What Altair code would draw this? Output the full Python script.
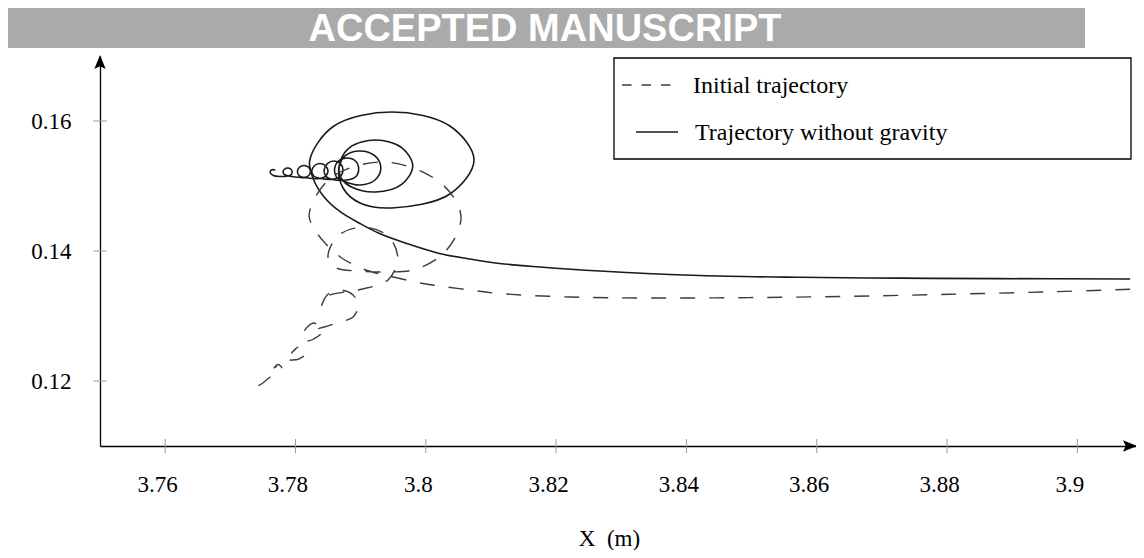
import altair as alt
import pandas as pd

# ---- data (x in m, y in m) ----
solid_x = [3.9081, 3.8880, 3.8727, 3.8574, 3.8420, 3.8267, 3.8175, 3.8113, 3.8067, 3.8021,
           3.7971, 3.7929, 3.7899, 3.7868, 3.7844, 3.7828, 3.7822, 3.7859, 3.7948, 3.8037,
           3.8074, 3.8037, 3.7948, 3.7899, 3.7873, 3.7867, 3.7883, 3.7923, 3.7963, 3.7980,
           3.7963, 3.7923, 3.7886, 3.7870, 3.7867, 3.7876, 3.7899, 3.7922, 3.7931, 3.7922,
           3.7899, 3.7877, 3.7863, 3.7860, 3.7866, 3.7879, 3.7892, 3.7897, 3.7892, 3.7879,
           3.7857, 3.7847, 3.7844, 3.7849, 3.7859, 3.7869, 3.7873, 3.7869, 3.7859, 3.7839,
           3.7828, 3.7825, 3.7829, 3.7837, 3.7846, 3.7850, 3.7846, 3.7837, 3.7817, 3.7806,
           3.7803, 3.7806, 3.7813, 3.7820, 3.7823, 3.7820, 3.7813, 3.7794, 3.7784, 3.7781,
           3.7783, 3.7788, 3.7793, 3.7795, 3.7793, 3.7788, 3.7776, 3.7766, 3.7761, 3.7764,
           3.7769]
solid_y = [0.13570, 0.13575, 0.13582, 0.13595, 0.13623, 0.13692, 0.13754, 0.13808, 0.13877, 0.13962,
           0.14115, 0.14269, 0.14423, 0.14608, 0.14831, 0.15092, 0.15400, 0.15923, 0.16138, 0.15923,
           0.15400, 0.14877, 0.14662, 0.14738, 0.14969, 0.15308, 0.15591, 0.15708, 0.15591, 0.15308,
           0.15025, 0.14908, 0.14985, 0.15123, 0.15277, 0.15462, 0.15538, 0.15462, 0.15277, 0.15092,
           0.15015, 0.15062, 0.15138, 0.15262, 0.15385, 0.15431, 0.15385, 0.15262, 0.15138, 0.15092,
           0.15100, 0.15146, 0.15246, 0.15345, 0.15385, 0.15345, 0.15246, 0.15148, 0.15108, 0.15115,
           0.15154, 0.15231, 0.15312, 0.15346, 0.15312, 0.15231, 0.15149, 0.15115, 0.15126, 0.15157,
           0.15223, 0.15288, 0.15315, 0.15288, 0.15223, 0.15158, 0.15131, 0.15146, 0.15169, 0.15215,
           0.15258, 0.15277, 0.15258, 0.15215, 0.15172, 0.15154, 0.15146, 0.15162, 0.15208, 0.15249,
           0.15246]

dash_x = [3.9081, 3.8957, 3.8804, 3.8650, 3.8497, 3.8344, 3.8221, 3.8113, 3.8067, 3.8021,
          3.7991, 3.7960, 3.7929, 3.7902, 3.7871, 3.7844, 3.7828, 3.7821, 3.7854, 3.7937,
          3.8023, 3.8054, 3.8032, 3.7986, 3.7937, 3.7896, 3.7863, 3.7850, 3.7865, 3.7903,
          3.7942, 3.7957, 3.7942, 3.7903, 3.7876, 3.7850, 3.7840, 3.7849, 3.7868, 3.7888,
          3.7896, 3.7888, 3.7868, 3.7844, 3.7814, 3.7828, 3.7842, 3.7828, 3.7811, 3.7794,
          3.7805, 3.7816, 3.7805, 3.7785, 3.7767, 3.7773, 3.7779, 3.7773, 3.7761, 3.7750,
          3.7742]
dash_y = [0.13411, 0.13372, 0.13334, 0.13303, 0.13283, 0.13277, 0.13292, 0.13346, 0.13400, 0.13462,
          0.13508, 0.13577, 0.13646, 0.13731, 0.13892, 0.14138, 0.14354, 0.14569, 0.15123, 0.15369,
          0.15046, 0.14538, 0.14015, 0.13723, 0.13677, 0.13692, 0.13738, 0.13892, 0.14231, 0.14369,
          0.14231, 0.13892, 0.13554, 0.13415, 0.13369, 0.13308, 0.13154, 0.13328, 0.13400, 0.13328,
          0.13154, 0.12980, 0.12908, 0.12831, 0.12769, 0.12892, 0.12769, 0.12646, 0.12585, 0.12431,
          0.12523, 0.12431, 0.12338, 0.12308, 0.12200, 0.12254, 0.12200, 0.12146, 0.12062, 0.11969,
          0.11923]

x_ticks = [3.76, 3.78, 3.80, 3.82, 3.84, 3.86, 3.88, 3.90]
y_ticks = [0.12, 0.14, 0.16]
legend_labels = ["Initial trajectory", "Trajectory without gravity"]
banner_text = "ACCEPTED MANUSCRIPT"
x_title = "X\u00a0\u00a0(m)"

W, H = 1036, 390
SERIF = "Liberation Serif"

solid_df = pd.DataFrame({"x": solid_x, "y": solid_y, "i": list(range(len(solid_x)))})
dash_df = pd.DataFrame({"x": dash_x, "y": dash_y, "i": list(range(len(dash_x)))})
xt_df = pd.DataFrame({"x": x_ticks})
yt_df = pd.DataFrame({"y": y_ticks})

xscale = alt.Scale(domain=[3.75, 3.909], zero=False, nice=False)
yscale = alt.Scale(domain=[0.11, 0.17], zero=False, nice=False)

xaxis = alt.Axis(values=x_ticks, format=".2~f", title=x_title, ticks=False, grid=False,
                 domainColor="black", domainWidth=1.3, labelFont=SERIF, labelFontSize=23,
                 labelColor="black", labelPadding=38, labelBaseline="middle",
                 labelOffset=-8, labelFlush=False, labelOverlap=False,
                 titleFont=SERIF, titleFontSize=23, titleFontWeight="normal",
                 titleColor="black", titleX=509, titleY=99, titleBaseline="alphabetic")
yaxis = alt.Axis(values=y_ticks, format=".2f", title="", ticks=False, grid=False,
                 domainColor="black", domainWidth=1.3, labelFont=SERIF, labelFontSize=23,
                 labelColor="black", labelPadding=29, labelFlush=False, labelOverlap=False)

X = alt.X("x:Q", scale=xscale, axis=xaxis)
Y = alt.Y("y:Q", scale=yscale, axis=yaxis)

solid = alt.Chart(solid_df).mark_line(color="#1a1a1a", strokeWidth=1.6,
                                      interpolate="catmull-rom").encode(
    x=X, y=Y, order="i:Q")

dashed = alt.Chart(dash_df).mark_line(color="#3c3c3c", strokeWidth=1.4, strokeDash=[15, 14],
                                      interpolate="catmull-rom").encode(
    x=X, y=Y, order="i:Q")

xticks = alt.Chart(xt_df).mark_rule(color="#9a9a9a", strokeWidth=1).encode(
    x=X, y=alt.value(H - 7), y2=alt.value(H + 7))
yticks = alt.Chart(yt_df).mark_rule(color="#9a9a9a", strokeWidth=1).encode(
    y=Y, x=alt.value(-7), x2=alt.value(7))

right_arrow = alt.Chart().mark_point(shape="M 1 0 L -1 -0.8 L -0.6 0 L -1 0.8 Z", filled=True,
                                     color="black", opacity=1, size=200).encode(
    x=alt.value(W - 6), y=alt.value(H))
top_arrow = alt.Chart().mark_point(shape="M 0 -1 L 0.8 1 L 0 0.6 L -0.8 1 Z", filled=True,
                                   color="black", opacity=1, size=200).encode(
    x=alt.value(0), y=alt.value(6))

banner = alt.Chart().mark_rect(color="#aaaaaa").encode(
    x=alt.value(-95), x2=alt.value(985), y=alt.value(-51), y2=alt.value(-8))
banner_t = alt.Chart().mark_text(font="Liberation Sans Narrow, Arial Narrow, sans-serif",
                                 fontSize=38, fontWeight="bold", color="white",
                                 align="center", baseline="alphabetic").encode(
    x=alt.value(445), y=alt.value(-15), text=alt.value(banner_text))

leg_box = alt.Chart().mark_rect(fill="white", stroke="black", strokeWidth=1.3).encode(
    x=alt.value(514), x2=alt.value(1031), y=alt.value(2), y2=alt.value(103))
leg_dash = alt.Chart().mark_rule(color="#3c3c3c", strokeWidth=1.4, strokeDash=[9.5, 10]).encode(
    x=alt.value(522), x2=alt.value(576), y=alt.value(29))
leg_solid = alt.Chart().mark_rule(color="#1a1a1a", strokeWidth=1.6).encode(
    x=alt.value(536), x2=alt.value(578), y=alt.value(76))
leg_t1 = alt.Chart().mark_text(font=SERIF, fontSize=24, color="black", align="left",
                               baseline="middle").encode(
    x=alt.value(593), y=alt.value(30), text=alt.value(legend_labels[0]))
leg_t2 = alt.Chart().mark_text(font=SERIF, fontSize=24, color="black", align="left",
                               baseline="middle").encode(
    x=alt.value(595), y=alt.value(77), text=alt.value(legend_labels[1]))

chart = alt.layer(
    banner, banner_t, solid, dashed, xticks, yticks, right_arrow, top_arrow,
    leg_box, leg_dash, leg_solid, leg_t1, leg_t2
).properties(
    width=W, height=H,
    autosize=alt.AutoSizeParams(type="none"),
    padding={"left": 92, "top": 48, "right": 0, "bottom": 104},
    background="white",
).configure_view(stroke=None)

chart.save("out.html", embed_options={"renderer": "svg", "actions": False})
